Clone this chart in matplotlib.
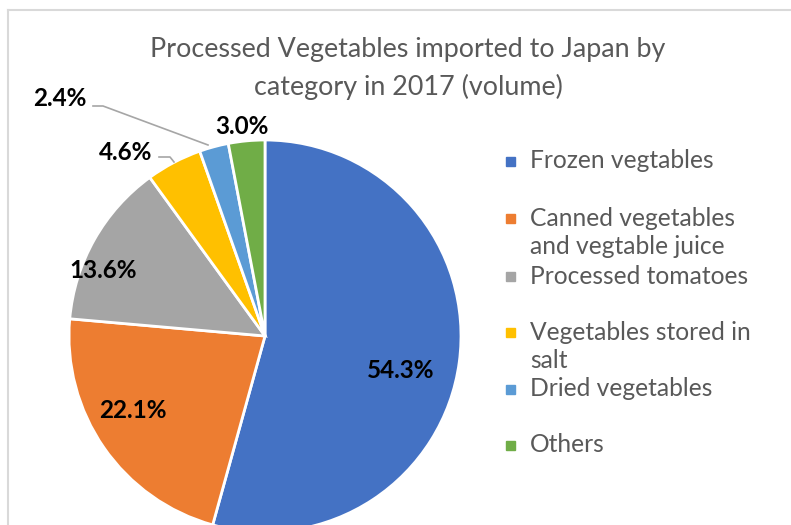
import matplotlib.pyplot as plt
from matplotlib.lines import Line2D
from matplotlib.patches import Rectangle

# data
categories = ["Frozen vegtables", "Canned vegetables\nand vegtable juice", "Processed tomatoes",
              "Vegetables stored in\nsalt", "Dried vegetables", "Others"]
shares = [54.3, 22.1, 13.6, 4.6, 2.4, 3.0]
colors = ["#4472C4", "#ED7D31", "#A5A5A5", "#FFC000", "#5B9BD5", "#70AD47"]

W, H = 791, 525
plt.rcParams['font.family'] = ['Lato', 'DejaVu Sans']

fig = plt.figure(figsize=(W / 100, H / 100), dpi=100)

# pie drawn in pixel units (y up) so the circle stays round
pax = fig.add_axes([0, 0, 1, 1])
cx, cy, r = 265, H - 336, 196
wedges, _ = pax.pie(shares, colors=colors, startangle=90, counterclock=False,
                    center=(cx, cy), radius=r, frame=True,
                    wedgeprops=dict(edgecolor="white", linewidth=2))
pax.set_xlim(0, W)
pax.set_ylim(0, H)
pax.set_aspect("equal")
pax.axis("off")

# overlay for texts and lines, in pixel units (y down)
ax = fig.add_axes([0, 0, 1, 1])
ax.set_xlim(0, W)
ax.set_ylim(H, 0)
ax.axis("off")

# frame of the chart area
ax.add_line(Line2D([8, W], [10, 10], color="#D9D9D9", lw=1.5))
ax.add_line(Line2D([8, 8], [10, H], color="#D9D9D9", lw=1.5))

# title
ax.text(408, 50, "Processed Vegetables imported to Japan by", ha="center", va="center",
        fontsize=19.4, color="#595959")
ax.text(408, 87, "category in 2017 (volume)", ha="center", va="center",
        fontsize=19.4, color="#595959")

# percentage labels
label_pos = [(401, 370), (133, 410), (103, 271), (126, 153), (60, 98), (242, 126)]
for val, (x, y) in zip(shares, label_pos):
    ax.text(x, y, f"{val:.1f}%", ha="center", va="center", fontsize=17.5,
            fontweight="bold", color="black")

# leader lines
ax.add_line(Line2D([93, 103, 208], [106, 106, 145], color="#A6A6A6", lw=1.2))
ax.add_line(Line2D([159, 170, 174], [157, 157, 162], color="#A6A6A6", lw=1.2))

# legend
legend_y = [161, 218, 276, 332, 389, 445]
for name, col, y in zip(categories, colors, legend_y):
    ax.add_patch(Rectangle((506, y - 4.5), 9, 9, color=col))
    lines = name.split("\n")
    for i, ln in enumerate(lines):
        ax.text(530, y + i * 29, ln, ha="left", va="center", fontsize=17.7, color="#595959")

fig.savefig("out.png", dpi=100)
